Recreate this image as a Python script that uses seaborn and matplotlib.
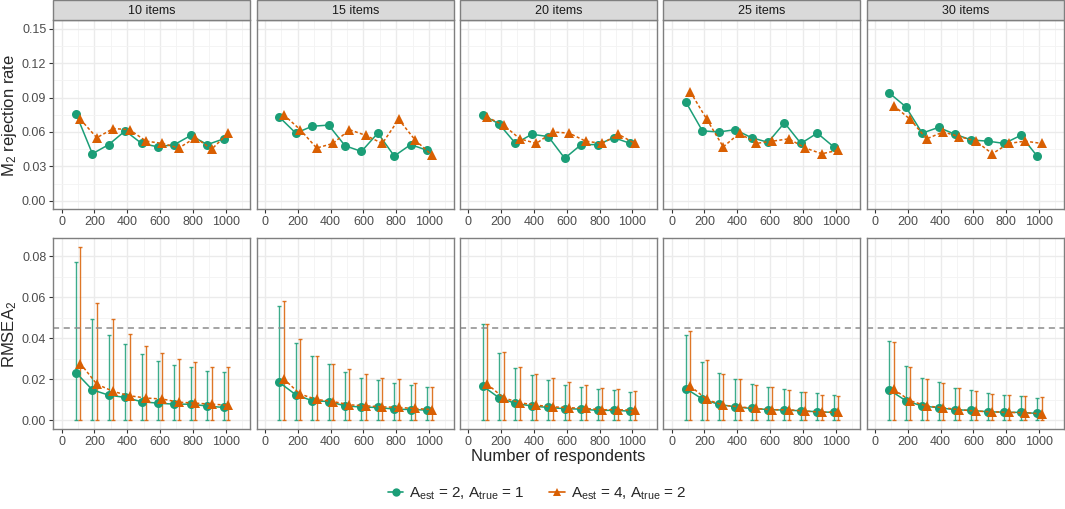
import numpy as np
import pandas as pd
import seaborn as sns
import matplotlib.pyplot as plt
from matplotlib.patches import Rectangle
from matplotlib.lines import Line2D
from matplotlib.ticker import MultipleLocator

# number of respondents, panels and the two models
n_resp = [100, 200, 300, 400, 500, 600, 700, 800, 900, 1000]
panels = ["10 items", "15 items", "20 items", "25 items", "30 items"]
models = ["A", "B"]
model_labels = [r"$\mathregular{A_{est}}$ = 2, $\mathregular{A_{true}}$ = 1",
                r"$\mathregular{A_{est}}$ = 4, $\mathregular{A_{true}}$ = 2"]

# M2 rejection rate, one row per panel
m2_a = [
    [0.076, 0.041, 0.049, 0.061, 0.050, 0.047, 0.049, 0.057, 0.049, 0.054],
    [0.073, 0.059, 0.065, 0.066, 0.048, 0.043, 0.059, 0.039, 0.049, 0.044],
    [0.075, 0.067, 0.050, 0.058, 0.056, 0.037, 0.049, 0.049, 0.055, 0.050],
    [0.086, 0.061, 0.060, 0.062, 0.055, 0.051, 0.068, 0.050, 0.059, 0.047],
    [0.094, 0.082, 0.059, 0.064, 0.058, 0.053, 0.052, 0.050, 0.057, 0.039],
]
m2_b = [
    [0.071, 0.055, 0.063, 0.062, 0.052, 0.050, 0.046, 0.055, 0.045, 0.059],
    [0.075, 0.062, 0.046, 0.050, 0.062, 0.057, 0.050, 0.071, 0.053, 0.040],
    [0.073, 0.066, 0.054, 0.050, 0.060, 0.059, 0.052, 0.050, 0.058, 0.050],
    [0.095, 0.071, 0.047, 0.059, 0.050, 0.052, 0.054, 0.046, 0.041, 0.044],
    [0.083, 0.071, 0.054, 0.060, 0.056, 0.052, 0.041, 0.050, 0.052, 0.050],
]

# RMSEA2 mean and upper bound of the interval (lower bound is 0)
rmsea_a = [
    [0.0233, 0.0149, 0.0123, 0.0112, 0.0091, 0.0084, 0.0079, 0.0079, 0.0070, 0.0063],
    [0.0185, 0.0125, 0.0096, 0.0092, 0.0071, 0.0065, 0.0063, 0.0055, 0.0053, 0.0050],
    [0.0168, 0.0110, 0.0083, 0.0070, 0.0063, 0.0057, 0.0055, 0.0049, 0.0049, 0.0045],
    [0.0155, 0.0104, 0.0078, 0.0066, 0.0058, 0.0053, 0.0050, 0.0047, 0.0042, 0.0039],
    [0.0149, 0.0096, 0.0070, 0.0062, 0.0052, 0.0049, 0.0042, 0.0040, 0.0039, 0.0034],
]
rmsea_a_hi = [
    [0.0774, 0.0496, 0.0415, 0.0374, 0.0322, 0.0292, 0.0269, 0.0259, 0.0240, 0.0235],
    [0.0557, 0.0379, 0.0313, 0.0274, 0.0235, 0.0209, 0.0199, 0.0180, 0.0172, 0.0162],
    [0.0468, 0.0329, 0.0254, 0.0223, 0.0198, 0.0172, 0.0165, 0.0155, 0.0149, 0.0139],
    [0.0418, 0.0285, 0.0233, 0.0201, 0.0177, 0.0162, 0.0155, 0.0139, 0.0133, 0.0123],
    [0.0385, 0.0266, 0.0207, 0.0186, 0.0159, 0.0146, 0.0133, 0.0123, 0.0120, 0.0109],
]
rmsea_b = [
    [0.0277, 0.0177, 0.0141, 0.0120, 0.0109, 0.0104, 0.0089, 0.0084, 0.0079, 0.0074],
    [0.0202, 0.0128, 0.0102, 0.0092, 0.0076, 0.0071, 0.0066, 0.0063, 0.0058, 0.0053],
    [0.0178, 0.0110, 0.0086, 0.0074, 0.0066, 0.0062, 0.0058, 0.0052, 0.0052, 0.0049],
    [0.0167, 0.0102, 0.0074, 0.0066, 0.0058, 0.0052, 0.0052, 0.0045, 0.0040, 0.0039],
    [0.0151, 0.0096, 0.0070, 0.0062, 0.0052, 0.0045, 0.0042, 0.0039, 0.0037, 0.0032],
]
rmsea_b_hi = [
    [0.0845, 0.0572, 0.0494, 0.0419, 0.0363, 0.0329, 0.0298, 0.0287, 0.0261, 0.0259],
    [0.0583, 0.0395, 0.0313, 0.0274, 0.0253, 0.0225, 0.0206, 0.0204, 0.0183, 0.0162],
    [0.0471, 0.0332, 0.0261, 0.0225, 0.0207, 0.0188, 0.0172, 0.0159, 0.0154, 0.0143],
    [0.0434, 0.0296, 0.0225, 0.0201, 0.0175, 0.0162, 0.0149, 0.0139, 0.0126, 0.0121],
    [0.0381, 0.0261, 0.0204, 0.0181, 0.0157, 0.0144, 0.0128, 0.0123, 0.0118, 0.0112],
]
rmsea_cut = 0.045

# long table
rows = []
for p, name in enumerate(panels):
    for m, (m2, rm, hi) in zip(models, [(m2_a, rmsea_a, rmsea_a_hi), (m2_b, rmsea_b, rmsea_b_hi)]):
        for i, n in enumerate(n_resp):
            rows.append(dict(panel=name, model=m, n=n, m2=m2[p][i], rmsea=rm[p][i], hi=hi[p][i]))
df = pd.DataFrame(rows)
dodge = {"A": -12, "B": 15}
df["xpos"] = df["n"] + df["model"].map(dodge)

sns.set_style("white")
plt.rcParams['font.family'] = ['Liberation Sans', 'DejaVu Sans']
plt.rcParams['mathtext.fontset'] = 'custom'
plt.rcParams['mathtext.rm'] = 'Liberation Sans'
plt.rcParams['mathtext.it'] = 'Liberation Sans:italic'

pal = {"A": "#1B9E77", "B": "#D95F02"}
marks = {"A": "o", "B": "^"}
dash = {"A": "", "B": (2, 1.5)}

W, H = 1065, 509
fig = plt.figure(figsize=(W / 100, H / 100), dpi=100)

def px_axes(x0, y0, x1, y1):
    return fig.add_axes([x0 / W, 1 - y1 / H, (x1 - x0) / W, (y1 - y0) / H])

lefts = [53.3, 256.7, 460, 663.3, 866.7]
pw = 197
border = "#7F7F7F"

def style_ax(ax, show_y, ylim, major, minor):
    ax.set_xlim(-50, 1150)
    ax.set_ylim(*ylim)
    ax.xaxis.set_major_locator(MultipleLocator(200))
    ax.xaxis.set_minor_locator(MultipleLocator(100))
    ax.yaxis.set_major_locator(MultipleLocator(major))
    ax.yaxis.set_minor_locator(MultipleLocator(minor))
    ax.grid(which="major", color="#EBEBEB", linewidth=1.0, zorder=0)
    ax.grid(which="minor", color="#F3F3F3", linewidth=0.6, zorder=0)
    ax.set_axisbelow(True)
    for s in ax.spines.values():
        s.set_color(border)
        s.set_linewidth(1.0)
    ax.tick_params(which="major", length=3, width=0.8, color="#333333",
                   labelsize=9, labelcolor="#4D4D4D", pad=2,
                   bottom=True, left=True)
    ax.tick_params(which="minor", length=0)
    if not show_y:
        ax.tick_params(axis="y", labelleft=False, left=False)
    ax.set_xlabel("")
    ax.set_ylabel("")

for p, name in enumerate(panels):
    x0 = lefts[p]
    sub = df[df["panel"] == name]

    # top row: M2 rejection rate
    ax = px_axes(x0, 20.3, x0 + pw, 209.3)
    sns.lineplot(data=sub, x="xpos", y="m2", hue="model", style="model",
                 palette=pal, markers=marks, dashes=dash, markersize=6.5,
                 markeredgewidth=0, linewidth=1.1, legend=False, ax=ax, zorder=3)
    style_ax(ax, p == 0, (-0.0075, 0.1575), 0.03, 0.015)
    ax.yaxis.set_major_formatter(plt.FuncFormatter(lambda v, _: f"{v:.2f}"))

    # strip
    fig.patches.append(Rectangle((x0 / W, 1 - 20.3 / H), pw / W, 19.8 / H,
                                 transform=fig.transFigure, facecolor="#D9D9D9",
                                 edgecolor=border, linewidth=1.0))
    fig.text((x0 + pw / 2) / W, 1 - 10.5 / H, name, ha="center", va="center",
             fontsize=9, color="#1A1A1A")

    # bottom row: RMSEA2
    ax2 = px_axes(x0, 238.3, x0 + pw, 429)
    for m in models:
        s = sub[sub["model"] == m]
        ax2.errorbar(s["xpos"], s["rmsea"], yerr=[s["rmsea"] - 0.0, s["hi"] - s["rmsea"]],
                     fmt="none", ecolor=pal[m], elinewidth=1.0, capsize=1.2,
                     capthick=1.0, alpha=0.85, zorder=2)
    ax2.axhline(rmsea_cut, color="#8C8C8C", linestyle=(0, (4, 3)), linewidth=1.1, zorder=2)
    sns.lineplot(data=sub, x="xpos", y="rmsea", hue="model", style="model",
                 palette=pal, markers=marks, dashes=dash, markersize=6.5,
                 markeredgewidth=0, linewidth=1.1, legend=False, ax=ax2, zorder=3)
    style_ax(ax2, p == 0, (-0.0042, 0.0888), 0.02, 0.01)
    ax2.yaxis.set_major_formatter(plt.FuncFormatter(lambda v, _: f"{v:.2f}"))

fig.text(10 / W, 1 - 116 / H, r"M$\mathregular{_2}$ rejection rate", rotation=90,
         ha="center", va="center", fontsize=12)
fig.text(10 / W, 1 - 334 / H, r"RMSEA$\mathregular{_2}$", rotation=90,
         ha="center", va="center", fontsize=12)
fig.text(558 / W, 1 - 457 / H, "Number of respondents", ha="center", va="center",
         fontsize=12)

handles = [Line2D([0], [0], color=pal[m], marker=marks[m], markersize=6,
                  markeredgewidth=0, linewidth=1.2) for m in models]
fig.legend(handles, model_labels, loc="center", bbox_to_anchor=(537 / W, 1 - 494 / H),
           ncol=2, frameon=False, fontsize=11, handlelength=1.0, columnspacing=1.6,
           handletextpad=0.4)

fig.savefig("out.png", dpi=100)
